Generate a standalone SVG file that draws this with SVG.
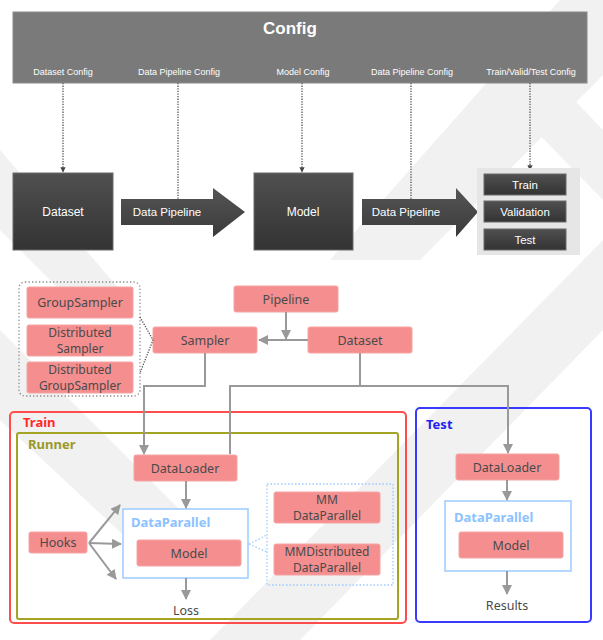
<svg xmlns="http://www.w3.org/2000/svg" width="603" height="640" viewBox="0 0 603 640">
  <style>
    .top { font-family: "Liberation Sans", Arial, sans-serif; fill: #ffffff; }
    .cfg { font-size: 9px; }
    .lbl { font-family: "Noto Sans", "Open Sans", sans-serif; font-size: 12.5px; fill: #4a4a4a; text-anchor: middle; }
    .two { font-size: 12px; }
    .pink { fill: #f48e8f; stroke: #f6a3a4; stroke-width: 1; }
    .dark { fill: url(#darkGrad); stroke: #6a6a6a; stroke-width: 1; }
    .dot { fill: none; stroke: #555; stroke-width: 1.3; stroke-dasharray: 1.3 1.3; }
    .conn { fill: none; stroke: #999; stroke-width: 2; }
    .grp { font-family: "Noto Sans", "Open Sans", sans-serif; font-weight: bold; font-size: 13px; }
  </style>
  <defs>
    <linearGradient id="darkGrad" x1="0" y1="0" x2="0" y2="1">
      <stop offset="0" stop-color="#505050"/>
      <stop offset="1" stop-color="#333333"/>
    </linearGradient>
    <linearGradient id="arrowGrad" x1="0" y1="0" x2="0" y2="1">
      <stop offset="0" stop-color="#555555"/>
      <stop offset="1" stop-color="#3a3a3a"/>
    </linearGradient>
    <marker id="tip" viewBox="0 0 10 10" refX="9" refY="5" markerWidth="5" markerHeight="5" orient="auto" markerUnits="strokeWidth">
      <path d="M0,0 L10,5 L0,10 z" fill="#999"/>
    </marker>
    <marker id="dtip" viewBox="0 0 10 10" refX="9" refY="5" markerWidth="4" markerHeight="4" orient="auto" markerUnits="strokeWidth">
      <path d="M0,0 L10,5 L0,10 z" fill="#444"/>
    </marker>
  </defs>

  <rect width="603" height="640" fill="#ffffff"/>

  <!-- faint background mark -->
  <g fill="#f1f1f1">
    <polygon points="420,12 490,12 603,130 603,200"/>
    <polygon points="330,260 420,260 603,75 603,0 560,0"/>
    <polygon points="210,640 300,640 603,330 603,240"/>
    <polygon points="0,330 0,420 150,560 230,560"/>
    <polygon points="0,150 0,230 60,290 120,290"/>
  </g>

  <!-- Config header -->
  <g id="config">
    <rect x="13" y="12" width="574" height="71" fill="#7a7a7a" stroke="#8a8a8a"/>
    <text class="top" x="290" y="34" font-size="17" font-weight="bold" text-anchor="middle">Config</text>
    <g class="top cfg" text-anchor="middle">
      <text x="63" y="75">Dataset Config</text>
      <text x="179" y="75">Data Pipeline Config</text>
      <text x="303" y="75">Model Config</text>
      <text x="412" y="75">Data Pipeline Config</text>
      <text x="531" y="75">Train/Valid/Test Config</text>
    </g>
  </g>

  <!-- config links -->
  <g id="config-links">
    <line class="dot" x1="63" y1="83" x2="63" y2="172" marker-end="url(#dtip)"/>
    <line class="dot" x1="178" y1="83" x2="178" y2="207" marker-end="url(#dtip)"/>
    <line class="dot" x1="302" y1="83" x2="302" y2="172" marker-end="url(#dtip)"/>
    <line class="dot" x1="411" y1="83" x2="411" y2="207" marker-end="url(#dtip)"/>
    <line class="dot" x1="530" y1="83" x2="530" y2="170" marker-end="url(#dtip)"/>
  </g>

  <g id="top-dataset">
    <rect class="dark" x="13" y="173" width="100" height="77"/>
    <text class="top" x="63" y="216" font-size="12" text-anchor="middle">Dataset</text>
  </g>
  <g id="top-pipeline-1">
    <polygon points="121,199 213,199 213,188 245,212 213,237 213,225 121,225" fill="url(#arrowGrad)"/>
    <text class="top" x="167" y="216" font-size="11.5" text-anchor="middle">Data Pipeline</text>
  </g>
  <g id="top-model">
    <rect class="dark" x="254" y="173" width="99" height="77"/>
    <text class="top" x="303" y="216" font-size="12" text-anchor="middle">Model</text>
  </g>
  <g id="top-pipeline-2">
    <polygon points="362,199 456,199 456,188 478,212 456,237 456,225 362,225" fill="url(#arrowGrad)"/>
    <text class="top" x="406" y="216" font-size="11.5" text-anchor="middle">Data Pipeline</text>
  </g>
  <g id="top-phases">
    <rect x="477" y="168" width="103" height="87" fill="#e6e6e6"/>
    <rect class="dark" x="484" y="174" width="82" height="21"/>
    <text class="top" x="525" y="189" font-size="11.5" text-anchor="middle">Train</text>
    <rect class="dark" x="484" y="201" width="82" height="21"/>
    <text class="top" x="525" y="216" font-size="11.5" text-anchor="middle">Validation</text>
    <rect class="dark" x="484" y="229" width="82" height="21"/>
    <text class="top" x="525" y="244" font-size="11.5" text-anchor="middle">Test</text>
  </g>

  <!-- containers -->
  <g id="train">
    <rect x="10" y="412" width="396" height="211" rx="4" fill="none" stroke="#ff4d4d" stroke-width="2"/>
    <text class="grp" x="23" y="427" fill="#ff2a2a">Train</text>
  </g>
  <g id="runner">
    <rect x="17" y="433" width="381" height="186" rx="2" fill="none" stroke="#a3a324" stroke-width="2"/>
    <text class="grp" x="28" y="449" fill="#99992a">Runner</text>
  </g>
  <g id="test">
    <rect x="416" y="408" width="175" height="214" rx="4" fill="none" stroke="#3a3aff" stroke-width="2"/>
    <text class="grp" x="426" y="429" fill="#2222ee">Test</text>
  </g>

  <!-- samplers -->
  <g id="sampler-types">
    <rect x="19" y="282" width="121" height="114" rx="6" fill="none" stroke="#888" stroke-width="1.3" stroke-dasharray="1.3 2.2"/>
    <rect class="pink" x="27" y="287" width="106" height="31" rx="2"/>
    <text class="lbl" x="80" y="307">GroupSampler</text>
    <rect class="pink" x="27" y="325" width="106" height="31" rx="2"/>
    <text class="lbl two" x="80" y="336.5">Distributed</text>
    <text class="lbl two" x="80" y="353">Sampler</text>
    <rect class="pink" x="27" y="362" width="106" height="31" rx="2"/>
    <text class="lbl two" x="80" y="373.5">Distributed</text>
    <text class="lbl two" x="80" y="390">GroupSampler</text>
  </g>
  <g id="sampler">
    <rect class="pink" x="153" y="327" width="104" height="26" rx="2"/>
    <text class="lbl" x="205" y="345">Sampler</text>
  </g>
  <g id="pipeline">
    <rect class="pink" x="234" y="286" width="104" height="26" rx="2"/>
    <text class="lbl" x="286" y="304">Pipeline</text>
  </g>
  <g id="dataset">
    <rect class="pink" x="308" y="327" width="104" height="26" rx="2"/>
    <text class="lbl" x="360" y="345">Dataset</text>
  </g>

  <!-- train nodes -->
  <g id="train-dataloader">
    <rect class="pink" x="134" y="455" width="103" height="26" rx="2"/>
    <text class="lbl" x="185" y="473">DataLoader</text>
  </g>
  <g id="train-dataparallel">
    <rect x="123" y="509" width="125" height="69" fill="#ffffff" stroke="#9ccbff" stroke-width="1.5"/>
    <text class="grp" x="131" y="527" fill="#8cc2ff">DataParallel</text>
  </g>
  <g id="train-model">
    <rect class="pink" x="137" y="540" width="104" height="26" rx="2"/>
    <text class="lbl" x="189" y="558">Model</text>
  </g>
  <g id="hooks">
    <rect class="pink" x="29" y="532" width="58" height="21" rx="2"/>
    <text class="lbl" x="58" y="547">Hooks</text>
  </g>
  <g id="parallel-types">
    <rect x="267" y="484" width="126" height="101" fill="none" stroke="#9ccbff" stroke-width="1.3" stroke-dasharray="1.5 2"/>
    <rect class="pink" x="274" y="492" width="106" height="31" rx="2"/>
    <text class="lbl two" x="327" y="503.5">MM</text>
    <text class="lbl two" x="327" y="520">DataParallel</text>
    <rect class="pink" x="274" y="544" width="106" height="31" rx="2"/>
    <text class="lbl two" x="327" y="555.5">MMDistributed</text>
    <text class="lbl two" x="327" y="572">DataParallel</text>
  </g>
  <g id="loss">
    <text class="lbl" x="186" y="615">Loss</text>
  </g>

  <!-- test nodes -->
  <g id="test-dataloader">
    <rect class="pink" x="456" y="454" width="103" height="26" rx="2"/>
    <text class="lbl" x="507" y="472">DataLoader</text>
  </g>
  <g id="test-dataparallel">
    <rect x="445" y="501" width="126" height="70" fill="#ffffff" stroke="#9ccbff" stroke-width="1.5"/>
    <text class="grp" x="454" y="522" fill="#8cc2ff">DataParallel</text>
  </g>
  <g id="test-model">
    <rect class="pink" x="459" y="532" width="104" height="26" rx="2"/>
    <text class="lbl" x="511" y="550">Model</text>
  </g>
  <g id="results">
    <text class="lbl" x="507" y="610">Results</text>
  </g>

  <!-- connectors -->
  <g id="connectors">
    <path class="dot" d="M140,317 L153,340 L140,373" stroke="#888" stroke-dasharray="1.3 2.2"/>
    <line class="conn" x1="286" y1="312" x2="286" y2="339" marker-end="url(#tip)"/>
    <line class="conn" x1="308" y1="340" x2="259" y2="340" marker-end="url(#tip)"/>
    <path class="conn" d="M205,353 V386 H144 V454" marker-end="url(#tip)"/>
    <path class="conn" d="M360,353 V386"/>
    <path class="conn" d="M230,454 V386 H508 V453" marker-end="url(#tip)"/>
    <line class="conn" x1="186" y1="481" x2="186" y2="508" marker-end="url(#tip)"/>
    <line class="conn" x1="186" y1="578" x2="186" y2="599" marker-end="url(#tip)"/>
    <line class="conn" x1="89" y1="543" x2="120" y2="505" marker-end="url(#tip)"/>
    <line class="conn" x1="89" y1="543" x2="121" y2="544" marker-end="url(#tip)"/>
    <line class="conn" x1="89" y1="543" x2="116" y2="579" marker-end="url(#tip)"/>
    <path d="M249,544 L267,535 M249,544 L267,552" fill="none" stroke="#9ccbff" stroke-width="1.3" stroke-dasharray="1.5 2"/>
    <line class="conn" x1="507" y1="480" x2="507" y2="500" marker-end="url(#tip)"/>
    <line class="conn" x1="507" y1="571" x2="507" y2="594" marker-end="url(#tip)"/>
  </g>
</svg>
